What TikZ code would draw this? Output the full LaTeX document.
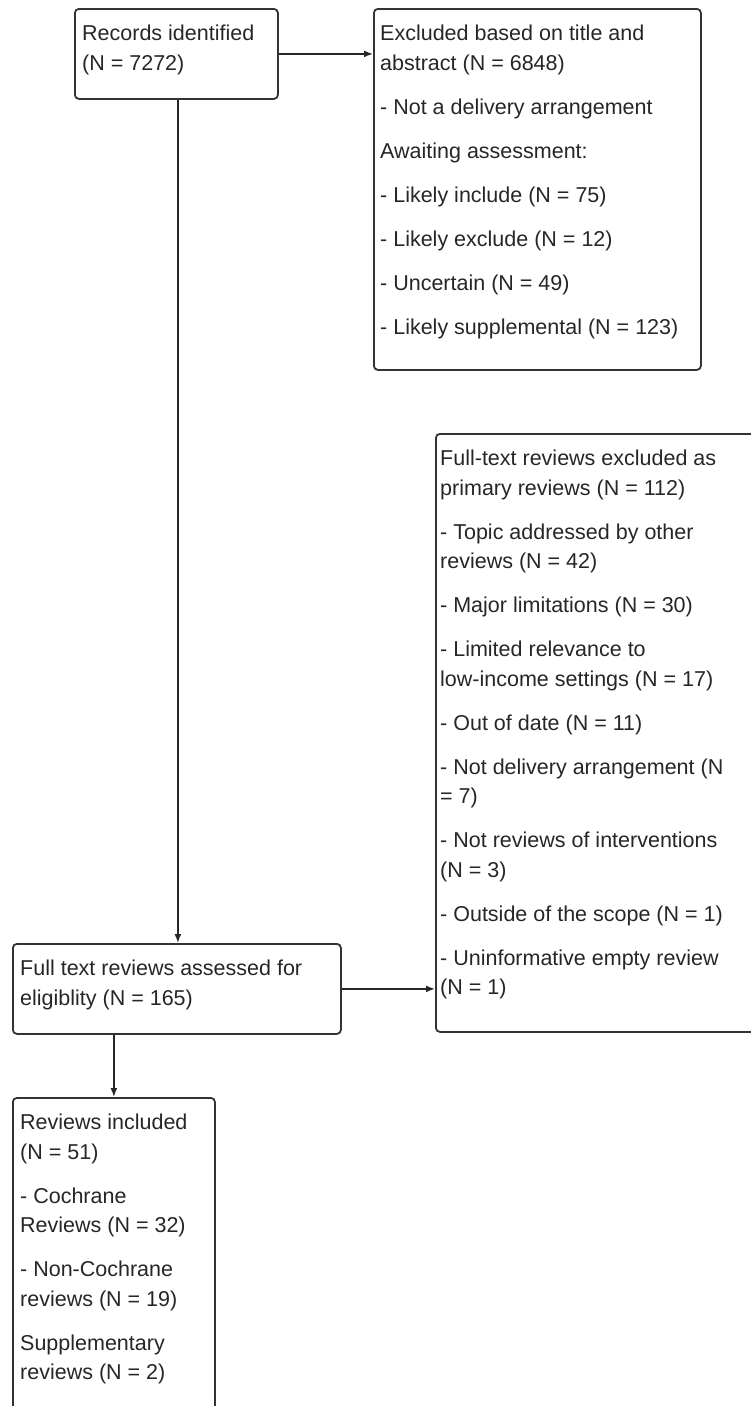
\documentclass[tikz,border=0pt]{standalone}
\usepackage{fontspec}
\setmainfont{Liberation Sans}
\usetikzlibrary{arrows.meta,calc}
\begin{document}
\begin{tikzpicture}[x=1pt,y=-1pt,
  box/.style={draw=black!80, line width=1.8pt, rounded corners=4pt, anchor=north west, inner sep=0pt},
  txt/.style={anchor=north west, inner sep=0pt, align=left, text=black!85,
    font=\fontsize{21.5}{29.5}\selectfont},
  conn/.style={draw=black!85, line width=1.6pt, -{Latex[length=9pt,width=7pt]}}]
\useasboundingbox (0,0) rectangle (751,1406);
\clip (0,0) rectangle (751,1406);
% boxes
\node[box, minimum width=203pt, minimum height=90pt] (b1) at (74,8) {};
\node[box, minimum width=327pt, minimum height=361pt] (b2) at (373,8) {};
\node[box, minimum width=325pt, minimum height=598pt] (b4) at (435,433) {};
\node[box, minimum width=328pt, minimum height=90pt] (b3) at (12,943) {};
\node[box, minimum width=202pt, minimum height=330pt] (b5) at (12,1097) {};
% texts
\node[txt] (t1) at ($(b1.north west)+(8,17)$) {Records identified\\(N = 7272)};
\node[txt] (t2) at ($(b2.north west)+(7,17)$) {Excluded based on title and\\abstract (N = 6848)\\[14.5pt]
- Not a delivery arrangement\\[14.5pt]
Awaiting assessment:\\[14.5pt]
- Likely include (N = 75)\\[14.5pt]
- Likely exclude (N = 12)\\[14.5pt]
- Uncertain (N = 49)\\[14.5pt]
- Likely supplemental (N = 123)};
\node[txt] (t4) at ($(b4.north west)+(5,17)$) {Full-text reviews excluded as\\primary reviews (N = 112)\\[14.5pt]
- Topic addressed by other\\reviews (N = 42)\\[14.5pt]
- Major limitations (N = 30)\\[14.5pt]
- Limited relevance to\\low-income settings (N = 17)\\[14.5pt]
- Out of date (N = 11)\\[14.5pt]
- Not delivery arrangement (N\\= 7)\\[14.5pt]
- Not reviews of interventions\\(N = 3)\\[14.5pt]
- Outside of the scope (N = 1)\\[14.5pt]
- Uninformative empty review\\(N = 1)};
\node[txt] (t3) at ($(b3.north west)+(8,17)$) {Full text reviews assessed for\\eligiblity (N = 165)};
\node[txt] (t5) at ($(b5.north west)+(8,17)$) {Reviews included\\(N = 51)\\[14.5pt]
- Cochrane\\Reviews (N = 32)\\[14.5pt]
- Non-Cochrane\\reviews (N = 19)\\[14.5pt]
Supplementary\\reviews (N = 2)};
% connectors
\coordinate (c1) at ($(b1.south)+(1.5,0)$);
\draw[conn] (b1.east) -- (b1.east -| b2.west);
\draw[conn] (c1) -- (c1 |- b3.north);
\draw[conn] (b3.east) -- (b3.east -| b4.west);
\draw[conn] (b5.north |- b3.south) -- (b5.north);
\end{tikzpicture}
\end{document}
